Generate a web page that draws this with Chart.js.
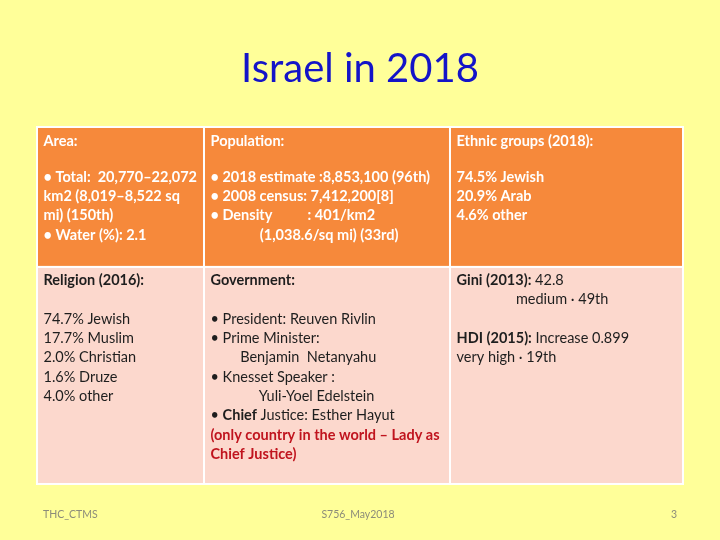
<!DOCTYPE html>
<html><head><meta charset="utf-8">
<script src="https://cdn.jsdelivr.net/npm/chart.js@4/dist/chart.umd.min.js"></script>
<style>html,body{margin:0;padding:0;background:#FFFF99;}canvas{display:block}</style>
</head><body>
<canvas id="c" width="720" height="540"></canvas>
<script>
// ---- content ----
const titleText = 'Israel in 2018';
const footerLeft = 'THC_CTMS';
const footerCenter = 'S756_May2018';
const pageNumber = '3';

// table structure (table units 0..100)
const colEdges = [0, 25.85, 63.93, 100];
const rowEdges = [0, 39.2, 100];

// each line: array of [text, style]  (b = bold, n = normal, r = red)
const areaCell = [
  [['Area:', 'b']], [],
  [['• Total:  20,770–22,072', 'b']],
  [['km2 (8,019–8,522 sq', 'b']],
  [['mi) (150th)', 'b']],
  [['• Water (%): 2.1', 'b']]
];
const populationCell = [
  [['Population:', 'b']], [],
  [['• 2018 estimate :8,853,100 (96th)', 'b']],
  [['• 2008 census: 7,412,200[8]', 'b']],
  [['• Density          : 401/km2', 'b']],
  [['              (1,038.6/sq mi) (33rd)', 'b']]
];
const ethnicCell = [
  [['Ethnic groups (2018):', 'b']], [],
  [['74.5% Jewish', 'b']],
  [['20.9% Arab', 'b']],
  [['4.6% other', 'b']]
];
const religionCell = [
  [['Religion (2016):', 'b']], [],
  [['74.7% Jewish', 'n']],
  [['17.7% Muslim', 'n']],
  [['2.0% Christian', 'n']],
  [['1.6% Druze', 'n']],
  [['4.0% other', 'n']]
];
const governmentCell = [
  [['Government:', 'b']], [],
  [['• President: Reuven Rivlin', 'n']],
  [['• Prime Minister:', 'n']],
  [['        Benjamin  Netanyahu', 'n']],
  [['• Knesset Speaker :', 'n']],
  [['             Yuli-Yoel Edelstein', 'n']],
  [['• ', 'n'], ['Chief', 'b'], [' Justice: Esther Hayut', 'n']],
  [['(only country in the world – Lady as', 'r']],
  [['Chief Justice)', 'r']]
];
const indicesCell = [
  [['Gini (2013):', 'b'], [' 42.8', 'n']],
  [['                medium · 49th', 'n']],
  [],
  [['HDI (2015):', 'b'], [' Increase 0.899', 'n']],
  [['very high · 19th', 'n']]
];
const tableRows = [
  [areaCell, populationCell, ethnicCell],
  [religionCell, governmentCell, indicesCell]
];

// ---- styles ----
const FONT = 'Lato, "Open Sans", sans-serif';
const rowFill = ['#F6893B', '#FCD8CD'];
const rowText = ['#FFFFFF', '#1E1E1E'];
const redText = '#C0141E';

const tablePlugin = {
  id: 'tablePlugin',
  beforeDraw(chart) {
    const ctx = chart.ctx;
    ctx.save();
    ctx.fillStyle = '#FFFF99';
    ctx.fillRect(0, 0, chart.width, chart.height);
    ctx.restore();
  },
  afterDraw(chart) {
    const ctx = chart.ctx;
    const xs = chart.scales.x, ys = chart.scales.y;
    ctx.save();
    for (let r = 0; r < tableRows.length; r++) {
      const y0 = ys.getPixelForValue(rowEdges[r]);
      const y1 = ys.getPixelForValue(rowEdges[r + 1]);
      for (let c = 0; c < tableRows[r].length; c++) {
        const x0 = xs.getPixelForValue(colEdges[c]);
        const x1 = xs.getPixelForValue(colEdges[c + 1]);
        ctx.fillStyle = rowFill[r];
        ctx.fillRect(x0, y0, x1 - x0, y1 - y0);
        ctx.strokeStyle = '#FFFFFF';
        ctx.lineWidth = 2;
        ctx.strokeRect(x0, y0, x1 - x0, y1 - y0);
        const lines = tableRows[r][c];
        const lh = 19.3;
        let ty = y0 + (r === 0 ? 14 : 13.5);
        ctx.textBaseline = 'middle';
        ctx.textAlign = 'left';
        for (const line of lines) {
          let tx = x0 + 6.5;
          for (const [t, s] of line) {
            ctx.font = (s === 'n' ? '400 ' : '700 ') + '14.5px ' + FONT;
            ctx.fillStyle = s === 'r' ? redText : rowText[r];
            ctx.fillText(t, tx, ty);
            tx += ctx.measureText(t).width;
          }
          ty += (line.length === 0 && r === 0) ? 16.8 : lh;
        }
      }
    }
    // title
    ctx.font = '400 40px ' + FONT;
    ctx.fillStyle = '#1414C8';
    ctx.textAlign = 'center';
    ctx.textBaseline = 'alphabetic';
    ctx.fillText(titleText, 360, 82);
    // footer
    ctx.font = '400 10.5px ' + FONT;
    ctx.fillStyle = '#8C8C7A';
    ctx.textBaseline = 'middle';
    ctx.textAlign = 'left';
    ctx.fillText(footerLeft, 43, 515);
    ctx.textAlign = 'center';
    ctx.fillText(footerCenter, 358, 515);
    ctx.textAlign = 'right';
    ctx.fillText(pageNumber, 677, 515);
    ctx.restore();
  }
};

new Chart(document.getElementById('c'), {
  type: 'scatter',
  data: { datasets: [{ data: [] }] },
  options: {
    responsive: false,
    animation: false,
    layout: { padding: { left: 37, right: 37, top: 127, bottom: 56 } },
    scales: {
      x: { type: 'linear', min: 0, max: 100, display: false },
      y: { type: 'linear', min: 0, max: 100, reverse: true, display: false }
    },
    plugins: { legend: { display: false }, tooltip: { enabled: false }, title: { display: false } }
  },
  plugins: [tablePlugin]
});
</script>
</body></html>
